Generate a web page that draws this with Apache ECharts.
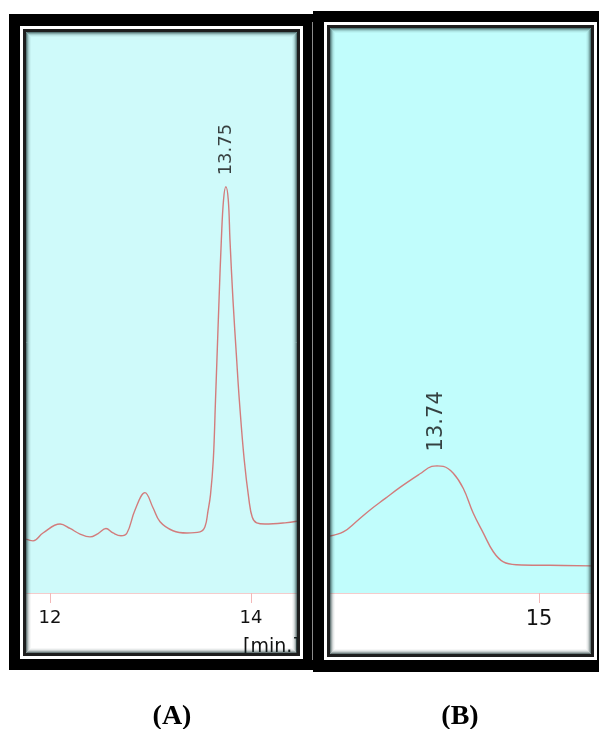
<!DOCTYPE html>
<html>
<head>
<meta charset="utf-8">
<script src="https://cdn.jsdelivr.net/npm/echarts@6/dist/echarts.min.js"></script>
<style>
  html, body { margin: 0; padding: 0; background: #fff; }
  #chart { width: 599px; height: 729px; }
</style>
</head>
<body>
<div id="chart"></div>
<script>
// Chromatogram A: retention time (min) and detector response
const timeA = [11.761, 11.831, 11.930, 12.100, 12.199, 12.299, 12.398, 12.478, 12.557, 12.627,
  12.706, 12.766, 12.846, 12.945, 13.025, 13.095, 13.224, 13.363, 13.493, 13.542,
  13.572, 13.597, 13.625, 13.647, 13.661, 13.682, 13.705, 13.727, 13.75, 13.774,
  13.791, 13.821, 13.858, 13.884, 13.933, 13.980, 14.013, 14.057, 14.139, 14.338, 14.458];
const signalA = [9.6, 9.3, 10.7, 12.3, 11.5, 10.5, 10.0, 10.6, 11.5, 10.7,
  10.2, 10.7, 14.8, 17.9, 15.2, 12.7, 11.1, 10.7, 10.9, 11.8,
  14.6, 17.5, 23.7, 34.4, 41.5, 52.2, 62.9, 70.1, 72.4, 70.1,
  62.9, 52.2, 41.5, 34.4, 23.7, 16.6, 13.5, 12.5, 12.3, 12.5, 12.8];
const peakA = 13.75;
const ticksA = [12, 14];

// Chromatogram B
const timeB = [12.419, 12.583, 12.749, 12.913, 13.098, 13.283, 13.530, 13.675, 13.74, 13.818,
  13.941, 14.065, 14.188, 14.312, 14.435, 14.559, 14.724, 15.135, 15.641];
const signalB = [10.1, 10.8, 12.7, 14.7, 16.7, 18.7, 21.1, 22.4, 22.5, 22.4,
  21.2, 18.5, 14.1, 10.6, 7.3, 5.5, 5.0, 4.9, 4.8];
const peakB = 13.74;
const ticksB = [15];

const panelNames = ['(A)', '(B)'];
const timeUnit = '[min.]';

const LINE = '#d27c7c';
const TXT = '#111111';
const FONT = 'DejaVu Sans';

function lineData(t, s) {
  return t.map((x, i) => [x, s[i]]);
}
function peakPoint(t, s, peak) {
  const i = t.indexOf(peak);
  return [[t[i], s[i]]];
}

function xAxisFor(gridIndex, min, max, ticks, fontSize) {
  return {
    type: 'value', gridIndex, min, max,
    axisLine: { show: true, onZero: false, lineStyle: { color: '#f4cccc', width: 1 } },
    axisTick: { show: true, customValues: ticks, length: 10, lineStyle: { color: '#f2b8b8', width: 1 } },
    axisLabel: { customValues: ticks, margin: 16, fontSize, color: TXT, fontFamily: FONT },
    splitLine: { show: false }
  };
}

function peakLabel(fontSize, distance) {
  return {
    show: true, position: 'top', distance, rotate: 90,
    align: 'left', verticalAlign: 'middle',
    fontSize, fontFamily: FONT, color: TXT,
    formatter: p => p.value[0].toFixed(2)
  };
}

// Panel frames: black border, white rule, dark rule and a soft inner bevel
function frame(o) {
  const els = [];
  const b = o.black, z = 100;
  const r = (x, y, w, h, fill) => els.push({ type: 'rect', silent: true, z, shape: { x, y, width: w, height: h }, style: { fill } });
  r(o.x0, o.y0, o.x1 - o.x0, b.y0 - o.y0, '#000');
  r(o.x0, b.y1, o.x1 - o.x0, o.y1 - b.y1, '#000');
  r(o.x0, o.y0, b.x0 - o.x0, o.y1 - o.y0, '#000');
  r(b.x1, o.y0, o.x1 - b.x1, o.y1 - o.y0, '#000');
  const ring = (inset, lw, stroke) => els.push({
    type: 'rect', silent: true, z,
    shape: { x: b.x0 + inset, y: b.y0 + inset, width: b.x1 - b.x0 - 2 * inset, height: b.y1 - b.y0 - 2 * inset },
    style: { fill: null, stroke, lineWidth: lw }
  });
  ring(1.5, 3, '#ffffff');
  ring(4.5, 3, '#1e1e1e');
  ring(6.5, 1, 'rgba(20,45,45,0.62)');
  ring(7.5, 1, 'rgba(20,45,45,0.40)');
  ring(8.5, 1, 'rgba(20,45,45,0.22)');
  ring(9.5, 1, 'rgba(20,45,45,0.10)');
  ring(10.5, 1, 'rgba(20,45,45,0.04)');
  return els;
}

const graphics = [].concat(
  [{ type: 'text', silent: true, z: 50, x: 243, y: 638,
     style: { text: timeUnit, fontSize: 19, fontFamily: FONT, fill: TXT, verticalAlign: 'top' } }],
  frame({ x0: 9, y0: 14, x1: 313, y1: 670, black: { x0: 20, y0: 26, x1: 303, y1: 659 } }),
  frame({ x0: 313, y0: 11, x1: 600, y1: 672, black: { x0: 324, y0: 22, x1: 597, y1: 660 } }),
  [{ type: 'rect', silent: true, z: 101, shape: { x: 312, y: 22, width: 1, height: 638 }, style: { fill: '#8c8c8c' } }],
  [{ type: 'text', silent: true, z: 10, x: 172, y: 703,
     style: { text: panelNames[0], fontSize: 28, fontWeight: 'bold', fontFamily: 'Liberation Serif', fill: '#000', align: 'center', verticalAlign: 'top' } },
   { type: 'text', silent: true, z: 10, x: 460, y: 703,
     style: { text: panelNames[1], fontSize: 28, fontWeight: 'bold', fontFamily: 'Liberation Serif', fill: '#000', align: 'center', verticalAlign: 'top' } }]
);

const chart = echarts.init(document.getElementById('chart'), null, { renderer: 'canvas' });
chart.setOption({
  animation: false,
  backgroundColor: '#ffffff',
  grid: [
    { left: 26, right: 302, top: 32, bottom: 136, show: true, backgroundColor: '#cffafa', borderWidth: 0 },
    { left: 330, right: 8, top: 28, bottom: 136, show: true, backgroundColor: '#c1fdfc', borderWidth: 0 }
  ],
  xAxis: [
    xAxisFor(0, 11.761, 14.458, ticksA, 18),
    xAxisFor(1, 12.419, 15.641, ticksB, 21)
  ],
  yAxis: [
    { type: 'value', gridIndex: 0, min: 0, max: 100, show: false },
    { type: 'value', gridIndex: 1, min: 0, max: 100, show: false }
  ],
  series: [
    { type: 'line', xAxisIndex: 0, yAxisIndex: 0, data: lineData(timeA, signalA), showSymbol: false,
      smooth: 0.4, lineStyle: { color: LINE, width: 1.4 }, silent: true },
    { type: 'scatter', xAxisIndex: 0, yAxisIndex: 0, data: peakPoint(timeA, signalA, peakA),
      symbolSize: 1, itemStyle: { color: LINE }, label: peakLabel(18, 11), silent: true },
    { type: 'line', xAxisIndex: 1, yAxisIndex: 1, data: lineData(timeB, signalB), showSymbol: false,
      smooth: 0.4, lineStyle: { color: LINE, width: 1.4 }, silent: true },
    { type: 'scatter', xAxisIndex: 1, yAxisIndex: 1, data: peakPoint(timeB, signalB, peakB),
      symbolSize: 1, itemStyle: { color: LINE }, label: peakLabel(21, 14), silent: true }
  ],
  graphic: { elements: graphics }
});
</script>
</body>
</html>
